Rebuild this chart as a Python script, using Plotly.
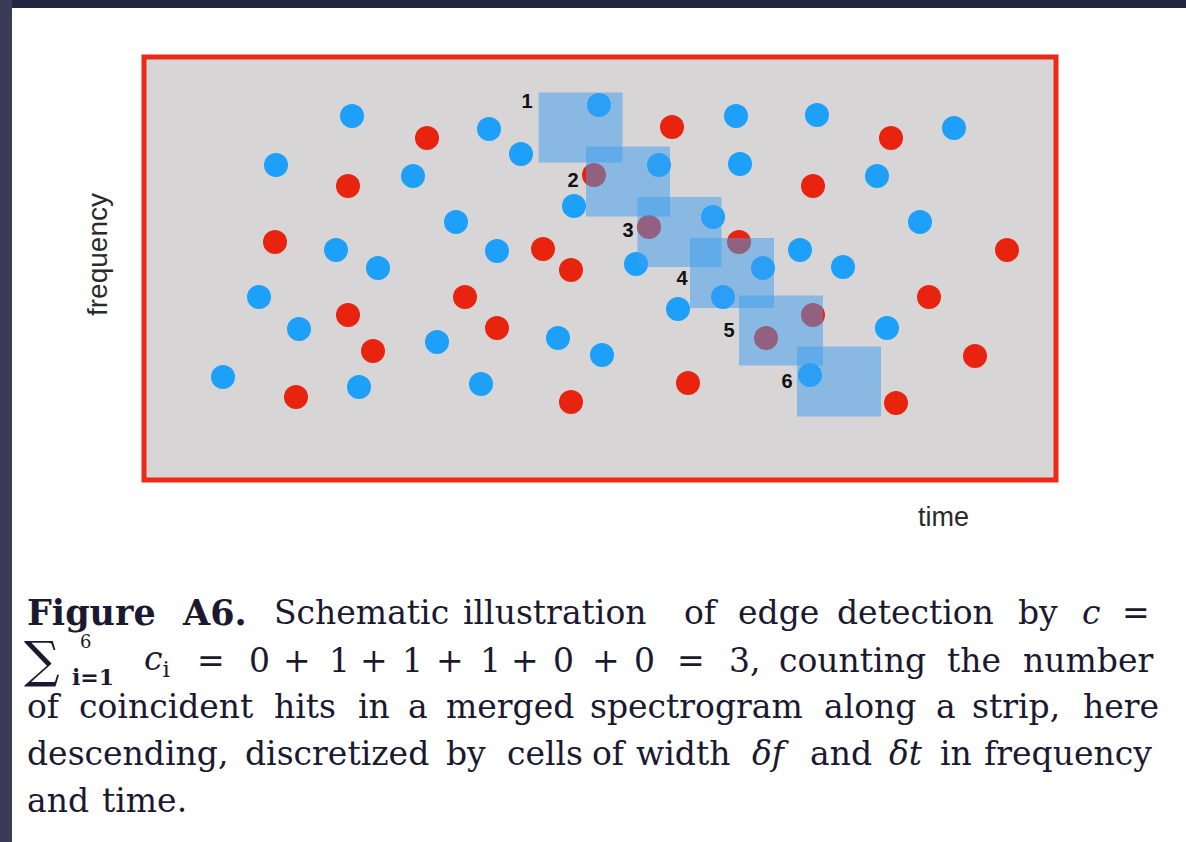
import plotly.graph_objects as go

# ---------------- data (time, frequency in arbitrary units) ----------------
blue_t = [208, 345, 455, 592, 673, 810, 132, 269, 377, 515, 596, 733, 430, 312, 569, 776,
          192, 353, 492, 619, 656, 699, 234, 115, 534, 579, 155, 293, 414, 458, 743, 79,
          215, 337, 666]
blue_f = [364, 351, 375, 364, 365, 352, 315, 304, 326, 315, 316, 304, 274, 258, 263, 258,
          230, 229, 216, 212, 230, 213, 212, 183, 171, 183, 151, 138, 142, 125, 152, 103,
          93, 96, 105]

red_t = [283, 528, 747, 204, 669, 450, 131, 399, 427, 505, 595, 863, 321, 204, 353, 785,
         669, 622, 229, 831, 152, 427, 544, 752]
red_f = [342, 353, 342, 294, 294, 305, 238, 231, 210, 253, 238, 230, 183, 165, 152, 183,
         165, 142, 129, 124, 83, 78, 97, 77]

# strip cells (centres) and their widths delta-t, delta-f
cell_t = [436.5, 484, 535.5, 588, 637, 695]
cell_f = [352.5, 298.5, 248, 207, 149.5, 98.5]
cell_dt = 84
cell_df = 70
cell_labels = ["1", "2", "3", "4", "5", "6"]
label_t = [383, 429, 484, 538, 585, 643]
label_f = [377, 298, 248, 200, 148, 97]

T_MAX = 912
F_MAX = 423

# ---------------- figure ----------------
W, H = 1186, 842
L, T = 144, 57
R = W - (L + T_MAX)
B = H - (T + F_MAX)

fig = go.Figure()

fig.add_trace(go.Scatter(x=blue_t, y=blue_f, mode="markers",
                         marker=dict(size=24, color="#1ca0fa", line=dict(width=0)),
                         hoverinfo="skip", showlegend=False))
fig.add_trace(go.Scatter(x=red_t, y=red_f, mode="markers",
                         marker=dict(size=24, color="#e8240f", line=dict(width=0)),
                         hoverinfo="skip", showlegend=False))
fig.add_trace(go.Scatter(x=label_t, y=label_f, mode="text",
                         text=["<b>%s</b>" % s for s in cell_labels],
                         textfont=dict(family="Liberation Sans", size=20, color="#111111"),
                         textposition="middle center",
                         hoverinfo="skip", showlegend=False))

shapes = []
for ct, cf in zip(cell_t, cell_f):
    shapes.append(dict(type="rect", xref="x", yref="y",
                       x0=ct - cell_dt / 2, x1=ct + cell_dt / 2,
                       y0=cf - cell_df / 2, y1=cf + cell_df / 2,
                       fillcolor="rgba(58,157,240,0.5)", line=dict(width=0),
                       layer="above"))

# red frame of the spectrogram
shapes.append(dict(type="rect", xref="paper", yref="paper", x0=0, x1=1, y0=0, y1=1,
                   line=dict(color="#ec2a18", width=5), fillcolor="rgba(0,0,0,0)",
                   layer="above"))


def px(xp):
    return (xp - L) / T_MAX


def py(yp):
    return (T + F_MAX - yp) / F_MAX


# dark screen border (top and left)
shapes.append(dict(type="rect", xref="paper", yref="paper", x0=px(0), x1=px(W),
                   y0=py(8), y1=py(-2), fillcolor="#252742", line=dict(width=0), layer="above"))
shapes.append(dict(type="rect", xref="paper", yref="paper", x0=px(-2), x1=px(12),
                   y0=py(H + 2), y1=py(-2), fillcolor="#3a3b56", line=dict(width=0), layer="above"))

annotations = []
annotations.append(dict(text="time", xref="paper", yref="paper", x=px(943), y=py(517),
                        showarrow=False, xanchor="center", yanchor="middle",
                        font=dict(family="Liberation Sans", size=27, color="#2a2a2a")))
annotations.append(dict(text="frequency", xref="paper", yref="paper", x=px(97), y=py(255),
                        showarrow=False, xanchor="center", yanchor="middle", textangle=-90,
                        font=dict(family="Liberation Sans", size=28, color="#2a2a2a")))

SERIF = "DejaVu Serif"
CFS = 33
CCOL = "#1b1930"

caption_lines = [
    (612, [(25, "<b>Figure</b>", 35), (180, "<b>A6.</b>", 35), (272, "Schematic", CFS),
           (461, "illustration", CFS), (682, "of", CFS), (736, "edge", CFS),
           (835, "detection", CFS), (1016, "by", CFS), (1080, "<i>c</i>", CFS),
           (1120, "=", CFS)]),
    (660, [(142, "<i>c</i><sub>i</sub>", CFS), (195, "=", CFS), (247, "0", CFS),
           (281, "+", CFS), (327, "1", CFS), (358, "+", CFS), (400, "1", CFS),
           (434, "+", CFS), (478, "1", CFS), (509, "+", CFS), (551, "0", CFS),
           (590, "+", CFS), (632, "0", CFS), (675, "=", CFS), (727, "3,", CFS),
           (777, "counting", CFS), (945, "the", CFS), (1021, "number", CFS)]),
    (706, [(25, "of", CFS), (77, "coincident", CFS), (272, "hits", CFS), (356, "in", CFS),
           (406, "a", CFS), (444, "merged", CFS), (588, "spectrogram", CFS),
           (822, "along", CFS), (934, "a", CFS), (970, "strip,", CFS), (1081, "here", CFS)]),
    (753, [(25, "descending,", CFS), (243, "discretized", CFS), (444, "by", CFS),
           (505, "cells", CFS), (590, "of", CFS), (634, "width", CFS),
           (750, "<i>δf</i>", CFS), (808, "and", CFS), (887, "<i>δt</i>", CFS),
           (938, "in", CFS), (982, "frequency", CFS)]),
    (800, [(25, "and", CFS), (100, "time.", CFS)]),
]
for yline, words in caption_lines:
    for xw, w, fs in words:
        annotations.append(dict(text=w, xref="paper", yref="paper", x=px(xw), y=py(yline),
                                showarrow=False, xanchor="left", yanchor="middle",
                                font=dict(family=SERIF, size=fs, color=CCOL)))

# summation sign with limits
annotations.append(dict(text="∑", xref="paper", yref="paper", x=px(22), y=py(660),
                        showarrow=False, xanchor="left", yanchor="middle",
                        font=dict(family=SERIF, size=50, color=CCOL)))
annotations.append(dict(text="6", xref="paper", yref="paper", x=px(78), y=py(641),
                        showarrow=False, xanchor="left", yanchor="middle",
                        font=dict(family=SERIF, size=18, color=CCOL)))
annotations.append(dict(text="<b>i=1</b>", xref="paper", yref="paper", x=px(70), y=py(677),
                        showarrow=False, xanchor="left", yanchor="middle",
                        font=dict(family=SERIF, size=22, color=CCOL)))

fig.update_layout(
    width=W, height=H, autosize=False,
    margin=dict(l=L, r=R, t=T, b=B, pad=0),
    paper_bgcolor="#ffffff", plot_bgcolor="#d8d5d6",
    xaxis=dict(range=[0, T_MAX], visible=False, fixedrange=True),
    yaxis=dict(range=[0, F_MAX], visible=False, fixedrange=True),
    shapes=shapes, annotations=annotations,
    showlegend=False,
)

fig.write_html("out.html", config={"displayModeBar": False},
               post_script="document.body.style.margin='0';")
